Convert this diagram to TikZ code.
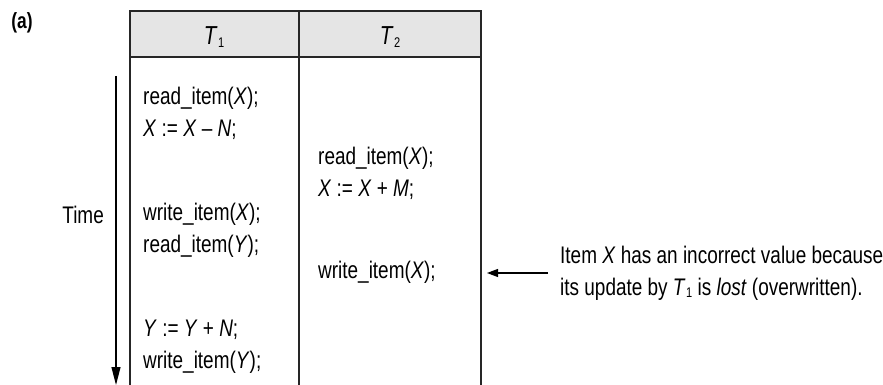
\documentclass[tikz,border=0pt]{standalone}
\usepackage{fontspec}
\setmainfont{Liberation Sans}[FakeStretch=0.79]
\usetikzlibrary{arrows.meta}
\newcommand\mv[1]{\textit{#1}}
\newcommand\sbs[1]{\kern0.5pt\raisebox{-0.2ex}{\fontsize{14}{14}\selectfont #1}}
\begin{document}
\begin{tikzpicture}[x=1pt,y=-1pt,
  txt/.style={anchor=west,inner sep=0pt,font=\fontsize{24}{32}\selectfont,align=left},
  hdr/.style={inner sep=0pt,font=\fontsize{26}{28}\selectfont},
  line/.style={line width=1.2pt,draw=black!85},
  arr/.style={line width=1.1pt,-{Triangle[length=11pt,width=8pt]}},
  tarr/.style={line width=1.1pt,-{Triangle[length=18pt,width=9pt]}}]
\useasboundingbox (0,0) rectangle (883,385);
\begin{scope}
\clip (0,0) rectangle (883,385);
\fill[black!10] (130,11) rectangle (481,57);
\draw[line] (130,400) -- (130,11) -- (481,11) -- (481,400);
\draw[line] (130,57) -- (481,57);
\draw[line] (299,11) -- (299,400);
\coordinate (ts) at (116,76);
\coordinate (te) at (116,385);
\draw[tarr] (ts) -- (te);
\end{scope}
\node[font=\bfseries\fontsize{22}{24}\selectfont,inner sep=0pt] (lab) at (22,23) {(a)};
\node[hdr] (t1) at (214,37) {\mv{T}\sbs{1}};
\node[hdr] (t2) at (390,37) {\mv{T}\sbs{2}};
\node[txt,anchor=east] (time) at (104,215) {Time};
\node[txt] (a1) at (143,113) {read\_item(\mv{X});\\\mv{X} := \mv{X} – \mv{N};};
\node[txt] (b1) at (318,173) {read\_item(\mv{X});\\\mv{X} := \mv{X} + \mv{M};};
\node[txt] (a2) at (143,230) {write\_item(\mv{X});\\read\_item(\mv{Y});};
\node[txt] (b2) at (318,272) {write\_item(\mv{X});};
\node[txt] (a3) at (143,347) {\mv{Y} := \mv{Y} + \mv{N};\\write\_item(\mv{Y});};
\node[txt] (note) at (560,273) {Item \mv{X} has an incorrect value because\\its update by \mv{T}\sbs{1} is \mv{lost} (overwritten).};
\draw[arr] (note.west) ++(-12,0) coordinate (ns) -- (487,273);
\end{tikzpicture}
\end{document}
